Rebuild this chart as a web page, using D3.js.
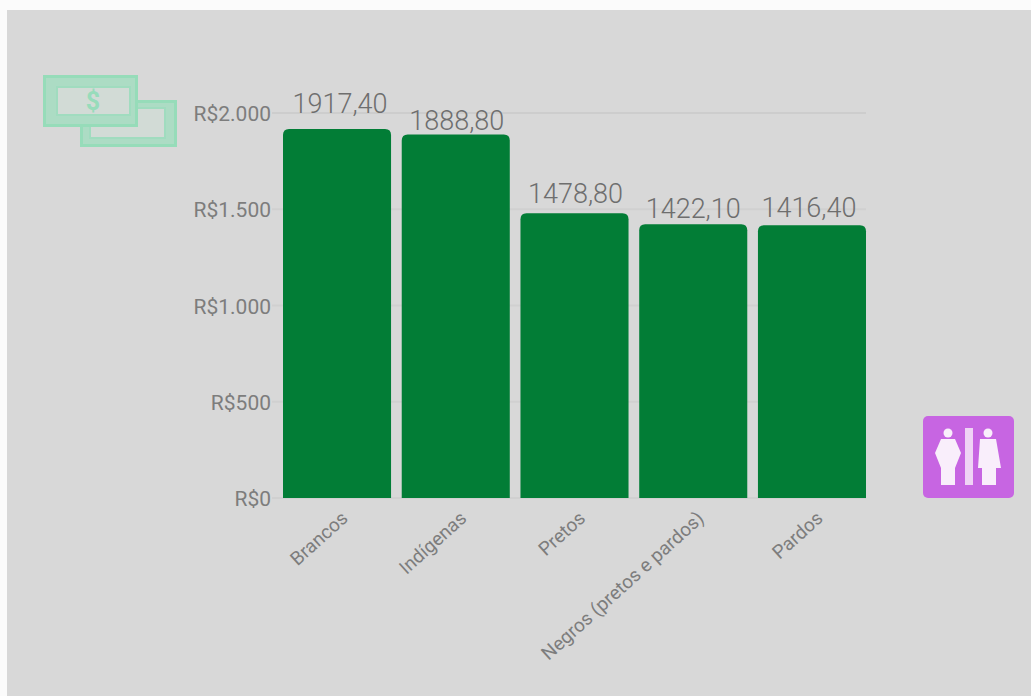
<!DOCTYPE html>
<html>
<head>
<meta charset="utf-8">
<script src="https://cdn.jsdelivr.net/npm/d3@7"></script>
<style>
html,body{margin:0;padding:0;background:#fbfbfb;}
svg{display:block;position:absolute;left:0;top:0;}
text{font-family:Roboto,sans-serif;}
</style>
</head>
<body>
<svg id="chart" width="1031" height="696"></svg>
<script>
// Average income by race / colour
const categories = ["Brancos","Indígenas","Pretos","Negros (pretos e pardos)","Pardos"];
const incomes = [1917.40,1888.80,1478.80,1422.10,1416.40];
const incomeLabels = ["1917,40","1888,80","1478,80","1422,10","1416,40"];
const tickValues = [0,500,1000,1500,2000];
const tickLabels = ["R$0","R$500","R$1.000","R$1.500","R$2.000"];

// hand placement of the value labels relative to each bar's top centre
const labelShiftX = [3,1,1,0,-3];
const labelLift = [16,4,10,6,8];

const svg = d3.select("#chart");
const panel = "#d8d8d8";
svg.append("rect").attr("x",7).attr("y",10).attr("width",1024).attr("height",686).attr("fill",panel);

const x = d3.scaleBand().domain(categories).range([283,866]).paddingInner(0.09);
const y = d3.scaleLinear().domain([0,2000]).range([498,113]);

// grid lines
svg.append("g").selectAll("line").data(tickValues).join("line")
  .attr("x1",272).attr("x2",866)
  .attr("y1",d=>y(d)).attr("y2",d=>y(d))
  .attr("stroke",d=>d===2000?"#cdcdcd":"#d0d0d0").attr("stroke-width",2);

// value axis, no domain line
const yAxis = d3.axisLeft(y).tickValues(tickValues).tickSize(0).tickPadding(0)
  .tickFormat((d,i)=>tickLabels[i]);
const yg = svg.append("g").attr("transform","translate(271,1)").call(yAxis);
yg.select(".domain").remove();
yg.selectAll("text").attr("font-size",21).attr("fill","#7d7d7d").style("font-family","Roboto,sans-serif");

// bars with rounded tops
const r = 6;
svg.append("g").selectAll("path").data(categories).join("path")
  .attr("fill","#027d36")
  .attr("d",(c,i)=>{
    const x0=x(c), w=x.bandwidth(), t=y(incomes[i]), b=y(0);
    return `M${x0},${b}V${t+r}Q${x0},${t} ${x0+r},${t}H${x0+w-r}Q${x0+w},${t} ${x0+w},${t+r}V${b}Z`;
  });

// value labels above the bars
svg.append("g").selectAll("text").data(categories).join("text")
  .attr("x",(c,i)=>x(c)+x.bandwidth()/2+labelShiftX[i])
  .attr("y",(c,i)=>y(incomes[i])-labelLift[i])
  .attr("text-anchor","middle")
  .attr("font-size",27)
  .attr("font-weight",300)
  .attr("fill","#6e6e6e")
  .text((c,i)=>incomeLabels[i]);

// category labels on a slant
svg.append("g").selectAll("text").data(categories).join("text")
  .attr("text-anchor","end")
  .attr("font-size",19)
  .attr("fill","#7d7d7d")
  .attr("transform",c=>`translate(${x(c)+x.bandwidth()/2+12},${520}) rotate(-42)`)
  .text(c=>c);

// banknotes icon
const money = svg.append("g");
const note = (nx,ny,nw,nh,ix,iy,iw,ih) => {
  money.append("rect").attr("x",nx+1.5).attr("y",ny+1.5).attr("width",nw-3).attr("height",nh-3)
    .attr("fill","#acdcc4").attr("stroke","#96dcb9").attr("stroke-width",3);
  money.append("rect").attr("x",ix).attr("y",iy).attr("width",iw).attr("height",ih)
    .attr("fill","#d2dbd6").attr("stroke","#a0dcbf").attr("stroke-width",2);
};
note(80,100,97,47,90,108,75,30);
note(43,75,95,52,57,87,73,28);
money.append("text").attr("x",93).attr("y",110).attr("text-anchor","middle").attr("font-size",25).attr("font-weight",700)
  .attr("fill","#98dcbb").text("$");

// restroom icon
const wc = svg.append("g");
wc.append("rect").attr("x",923).attr("y",416).attr("width",91).attr("height",82).attr("rx",5).attr("fill","#c765e2");
const white = "#f9eefb";
wc.append("rect").attr("x",965).attr("y",428).attr("width",8).attr("height",57).attr("fill","#efd3f5");
wc.append("circle").attr("cx",948).attr("cy",433).attr("r",4.5).attr("fill",white);
wc.append("path").attr("fill",white).attr("d","M941,439H955L961,453 955,468V485H941V468L935,453Z");
wc.append("circle").attr("cx",988).attr("cy",433).attr("r",4.5).attr("fill",white);
wc.append("path").attr("fill",white).attr("d","M980,439H996L1001,468H996V485H982V468H978Z");
</script>
</body>
</html>
